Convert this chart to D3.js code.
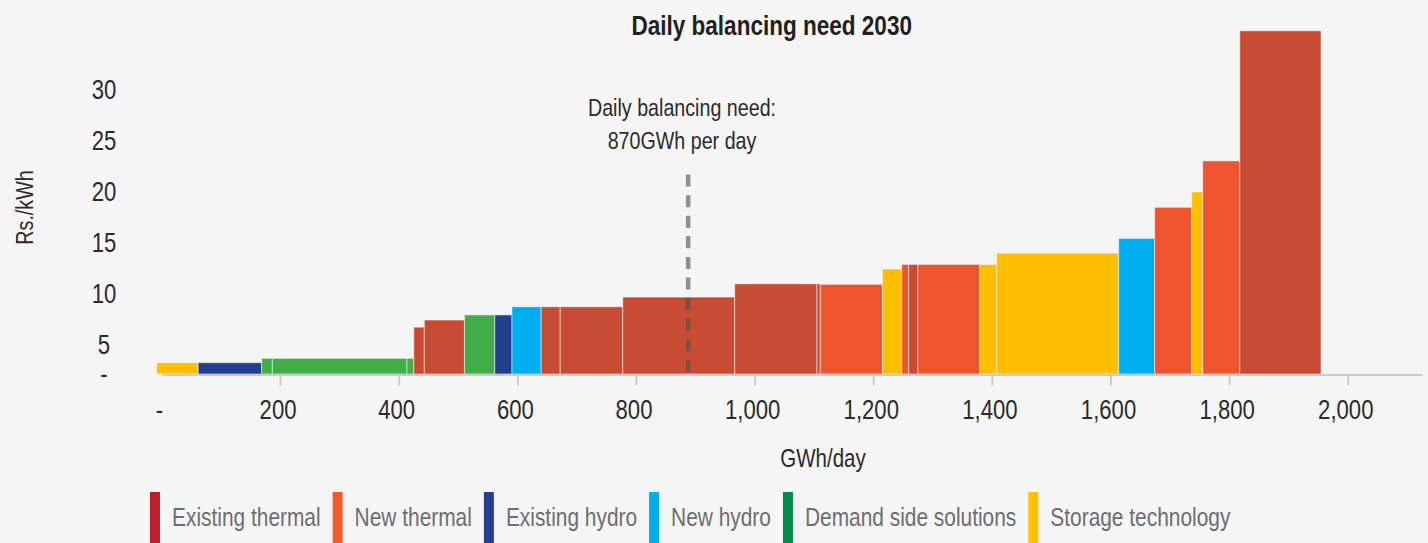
<!DOCTYPE html>
<html>
<head>
<meta charset="utf-8">
<script src="https://cdn.jsdelivr.net/npm/d3@7"></script>
<style>
    body { margin: 0; background: #f5f5f5; }
    svg text { font-family: "Liberation Sans", Arial, sans-serif; }
</style>
</head>
<body>
<svg id="Chart"></svg>
<script>
// legend categories
const categories = ["Existing thermal", "New thermal", "Existing hydro", "New hydro", "Demand side solutions", "Storage technology"]

// supply blocks in merit order: type, width (GWh/day), cost (Rs./kWh)
const blockType = [
    "Storage technology", "Existing hydro", "Demand side solutions", "Demand side solutions", "Demand side solutions",
    "Existing thermal", "Existing thermal", "Demand side solutions", "Existing hydro", "New hydro",
    "Existing thermal", "Existing thermal", "Existing thermal", "Existing thermal", "Existing thermal",
    "New thermal", "Storage technology", "New thermal", "Existing thermal", "New thermal",
    "Storage technology", "Storage technology", "New hydro", "New thermal", "Storage technology",
    "New thermal", "Existing thermal"
]
const blockWidth = [
    70, 107, 18, 227, 11.5,
    17.7, 67.7, 51.1, 29, 49.2,
    32.1, 105.5, 188.7, 138.7, 5.6,
    104.8, 32.4, 11.8, 15.3, 104.6,
    28.4, 205.7, 60.6, 62.5, 18.5,
    62.6, 136.9
]
const blockCost = [
    1.95, 1.95, 2.7, 2.7, 2.7,
    6.75, 7.45, 7.95, 7.95, 8.75,
    8.75, 8.75, 9.7, 11.0, 11.0,
    10.95, 12.45, 12.9, 12.9, 12.9,
    12.9, 14.0, 15.45, 18.5, 20.0,
    23.05, 35.8
]
const firstBlockStart = -8

const xTicks = [0, 200, 400, 600, 800, 1000, 1200, 1400, 1600, 1800, 2000]
const yTicks = [0, 5, 10, 15, 20, 25, 30]

// where the dashed "daily balancing need" marker sits
const needX = 888
const needTop = 21.9
const needBottom = 0.35

const barColors = ["#c84b33", "#ee552e", "#233e8c", "#00aeef", "#42ae4a", "#ffbe00"]
const legendColors = ["#be1e2d", "#ef5a2f", "#263f8f", "#00aeef", "#008d48", "#ffc000"]

var dimensions = {
    width: 1428,
    height: 543
}

// no narrow font installed, so squeeze the regular one
const squeeze = 0.82

var svg = d3.select("#Chart")
            .attr("width", dimensions.width)
            .attr("height", dimensions.height)

var ends = d3.cumsum(blockWidth).map(v => v + firstBlockStart)
var blocks = blockWidth.map((w, i) => ({
    type: blockType[i],
    start: ends[i] - w,
    end: ends[i],
    cost: blockCost[i]
}))

var xScale = d3.scaleLinear()
               .domain([0, 2125])
               .range([161.4, 1421.9])

// the printed axis squeezes the 0-5 band, so the scale has a knee at 5
var yScale = d3.scaleLinear()
               .domain([0, 5, 30])
               .range([374, 345, 90])

var barColor = d3.scaleOrdinal().domain(categories).range(barColors)
var legendColor = d3.scaleOrdinal().domain(categories).range(legendColors)

svg.append("g")
   .selectAll("rect")
   .data(blocks)
   .enter()
   .append("rect")
   .attr("x", d => xScale(d.start))
   .attr("y", d => yScale(d.cost))
   .attr("width", d => xScale(d.end) - xScale(d.start))
   .attr("height", d => yScale(0) - yScale(d.cost))
   .attr("fill", d => barColor(d.type))
   .attr("stroke", "#fff")
   .attr("stroke-opacity", 0.5)
   .attr("stroke-width", 1)

var xAxisGen = d3.axisBottom(xScale)
                 .tickValues(xTicks)
                 .tickSize(11)
                 .tickSizeOuter(0)
                 .tickPadding(14)
                 .tickFormat(d => d === 0 ? "-" : d3.format(",")(d))

var xAxis = svg.append("g")
               .attr("transform", "translate(0, 374.5)")
               .call(xAxisGen)

xAxis.select(".domain").attr("stroke", "#cccccc").attr("stroke-width", 2)
xAxis.selectAll(".tick line").attr("stroke", "#cccccc").attr("stroke-width", 2)
xAxis.selectAll(".tick").filter(d => d === 0).select("line").remove()
xAxis.selectAll(".tick text")
     .attr("dx", -3)
     .attr("transform", `scale(${squeeze},1)`)
     .attr("fill", "#2b2b2b")
     .style("font-size", "27px")

var yAxisGen = d3.axisLeft(yScale)
                 .tickValues(yTicks)
                 .tickSize(0)
                 .tickPadding(0)
                 .tickFormat(d => d === 0 ? "-" : d)

var yAxis = svg.append("g")
               .attr("transform", "translate(104, 0)")
               .call(yAxisGen)

yAxis.select(".domain").remove()
yAxis.selectAll(".tick text")
     .attr("text-anchor", "middle")
     .attr("transform", `scale(${squeeze},1)`)
     .attr("fill", "#2b2b2b")
     .style("font-size", "27px")

// dashed marker
svg.append("line")
   .attr("x1", xScale(needX))
   .attr("x2", xScale(needX))
   .attr("y1", yScale(needBottom))
   .attr("y2", yScale(needTop))
   .attr("stroke", "rgba(80,80,80,0.62)")
   .attr("stroke-width", 4.5)
   .attr("stroke-dasharray", "12,8.6")

var note = svg.append("text")
              .attr("transform", `translate(682, 0) scale(${squeeze},1)`)
              .attr("text-anchor", "middle")
              .attr("fill", "#2b2b2b")
              .style("font-size", "24px")
note.append("tspan").attr("x", 0).attr("y", 116).text("Daily balancing need:")
note.append("tspan").attr("x", 0).attr("y", 149).text("870GWh per day")

var title = svg.append("text")
               .attr("transform", `translate(771.7, 35) scale(${squeeze},1)`)
               .attr("text-anchor", "middle")
               .attr("fill", "#231f20")
               .style("font-size", "27.5px")
               .style("font-weight", "bold")
               .text("Daily balancing need 2030")

var yAxisText = svg.append("text")
                   .attr("transform", `translate(33, 207.5) rotate(-90) scale(${squeeze},1)`)
                   .attr("text-anchor", "middle")
                   .attr("fill", "#2b2b2b")
                   .style("font-size", "24px")
                   .text("Rs./kWh")

var xAxisText = svg.append("text")
                   .attr("transform", `translate(823, 466.5) scale(${squeeze},1)`)
                   .attr("text-anchor", "middle")
                   .attr("fill", "#2b2b2b")
                   .style("font-size", "25px")
                   .text("GWh/day")

// legend flows left to right
var legend = svg.append("g")
var legendX = 150
categories.forEach(c => {
    legend.append("rect")
          .attr("x", legendX)
          .attr("y", 492)
          .attr("width", 10)
          .attr("height", 51)
          .attr("fill", legendColor(c))
    var label = legend.append("text")
                      .attr("transform", `translate(${legendX + 22}, 526) scale(${squeeze},1)`)
                      .attr("fill", "#6d6e71")
                      .style("font-size", "25.5px")
                      .text(c)
    legendX += 22 + label.node().getComputedTextLength() * squeeze + 12
})
</script>
</body>
</html>
